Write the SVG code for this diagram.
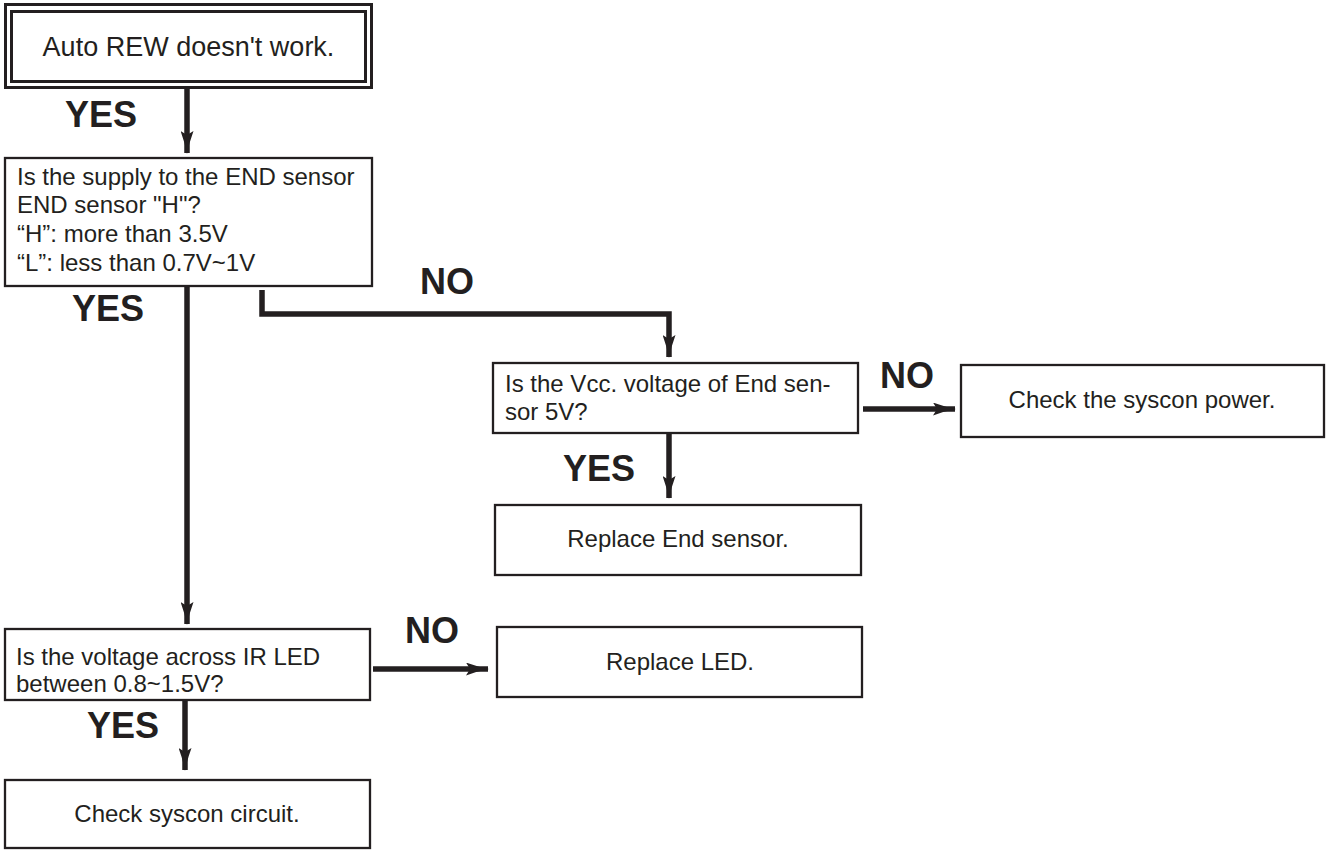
<svg xmlns="http://www.w3.org/2000/svg" width="1327" height="850" viewBox="0 0 1327 850">
<style>
.box{fill:#fff;stroke:#231f20;stroke-width:2.3}
.t{font-family:"Liberation Sans",Arial,sans-serif;font-size:24px;fill:#231f20}
.c{text-anchor:middle}
.lbl{font-family:"Liberation Sans",Arial,sans-serif;font-size:36px;font-weight:bold;fill:#231f20}
.ln{fill:none;stroke:#231f20;stroke-width:5.5}
</style>
<defs>
<marker id="ah" viewBox="0 0 23 13" refX="22" refY="6.5" markerWidth="23" markerHeight="13" markerUnits="userSpaceOnUse" orient="auto">
<path d="M0,0 Q12,4.5 23,6.5 Q12,8.5 0,13 L4,6.5 Z" fill="#231f20"/>
</marker>
</defs>
<rect width="1327" height="850" fill="#fff"/>
<g id="connectors">
<line class="ln" x1="187" y1="89" x2="187" y2="153" marker-end="url(#ah)"/>
<line class="ln" x1="187" y1="287" x2="187" y2="624" marker-end="url(#ah)"/>
<polyline class="ln" points="262,290 262,314 669,314 669,357" marker-end="url(#ah)"/>
<line class="ln" x1="863" y1="409" x2="955" y2="409" marker-end="url(#ah)"/>
<line class="ln" x1="669" y1="434" x2="669" y2="498" marker-end="url(#ah)"/>
<line class="ln" x1="373" y1="669" x2="488" y2="669" marker-end="url(#ah)"/>
<line class="ln" x1="185" y1="701" x2="185" y2="770" marker-end="url(#ah)"/>
<text class="lbl" x="65" y="127">YES</text>
<text class="lbl" x="72" y="321">YES</text>
<text class="lbl" x="420" y="294">NO</text>
<text class="lbl" x="880" y="388">NO</text>
<text class="lbl" x="563" y="481">YES</text>
<text class="lbl" x="405" y="643">NO</text>
<text class="lbl" x="87" y="738">YES</text>
</g>
<g id="n1">
<rect x="5.5" y="4.5" width="366" height="83" fill="#fff" stroke="#231f20" stroke-width="3"/>
<rect x="11.5" y="11.5" width="354" height="70" fill="none" stroke="#231f20" stroke-width="3"/>
<text class="t c" x="188.5" y="56" style="font-size:27px">Auto REW doesn't work.</text>
</g>
<g id="n2">
<rect class="box" x="5" y="158" width="367" height="128"/>
<text class="t" x="17" y="185">Is the supply to the END sensor</text>
<text class="t" x="17" y="213">END sensor "H"?</text>
<text class="t" x="17" y="242">“H”: more than 3.5V</text>
<text class="t" x="17" y="271">“L”: less than 0.7V~1V</text>
</g>
<g id="n3">
<rect class="box" x="493" y="363" width="365" height="70"/>
<text class="t" x="505" y="392">Is the Vcc. voltage of End sen-</text>
<text class="t" x="505" y="420">sor 5V?</text>
</g>
<g id="n4">
<rect class="box" x="961" y="365" width="363" height="72"/>
<text class="t c" x="1142" y="408">Check the syscon power.</text>
</g>
<g id="n5">
<rect class="box" x="495" y="505" width="366" height="70"/>
<text class="t c" x="678" y="547">Replace End sensor.</text>
</g>
<g id="n6">
<rect class="box" x="5" y="629" width="365" height="71"/>
<text class="t" x="16" y="665">Is the voltage across IR LED</text>
<text class="t" x="16" y="692">between 0.8~1.5V?</text>
</g>
<g id="n7">
<rect class="box" x="497" y="627" width="365" height="70"/>
<text class="t c" x="680" y="670">Replace LED.</text>
</g>
<g id="n8">
<rect class="box" x="5" y="780" width="365" height="68"/>
<text class="t c" x="187" y="822">Check syscon circuit.</text>
</g>
</svg>
